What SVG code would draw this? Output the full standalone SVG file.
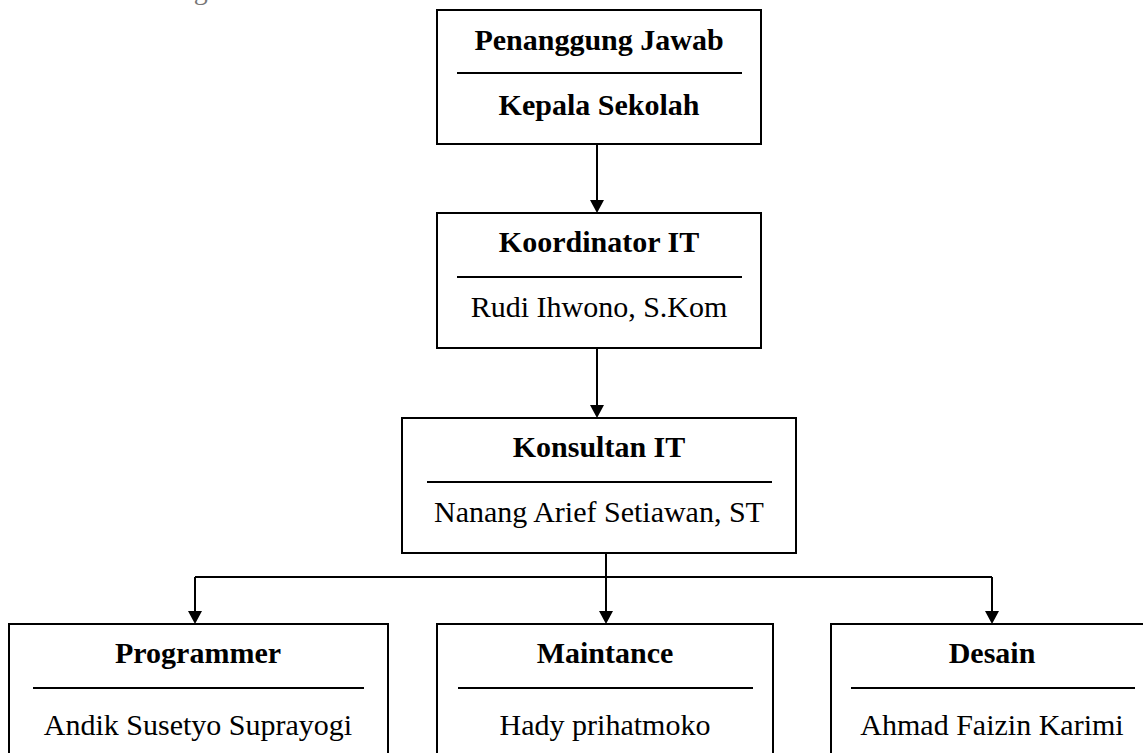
<svg xmlns="http://www.w3.org/2000/svg" width="1143" height="753" viewBox="0 0 1143 753">
<defs>
<style>
.box{fill:#fff;stroke:#000;stroke-width:2}
.div{stroke:#000;stroke-width:2}
.t{font-family:"Liberation Serif","Times New Roman",serif;font-size:30px;fill:#000;text-anchor:middle}
.b{font-weight:bold}
.con{fill:none;stroke:#000;stroke-width:2}
</style>
</defs>
<rect width="1143" height="753" fill="#fff"/>
<text x="144" y="-1" font-family="Liberation Serif, serif" font-size="28" fill="#777">sebagai mana di bawah ini</text>
<g id="connectors">
<path class="con" d="M597,144 V200"/>
<path d="M590,200 L604,200 L597,213 Z" fill="#000"/>
<path class="con" d="M597,348 V405"/>
<path d="M590,405 L604,405 L597,418 Z" fill="#000"/>
<path class="con" d="M606,553 V577 M195,577 H992 M195,577 V611 M606,577 V611 M992,577 V611"/>
<path d="M188,611 L202,611 L195,624 Z M599,611 L613,611 L606,624 Z M985,611 L999,611 L992,624 Z" fill="#000"/>
</g>
<g id="node-penanggung">
<rect class="box" x="437" y="10" width="324" height="134"/>
<text class="t b" x="599" y="50">Penanggung Jawab</text>
<line class="div" x1="457" y1="73" x2="742" y2="73"/>
<text class="t b" x="599" y="115">Kepala Sekolah</text>
</g>
<g id="node-koordinator">
<rect class="box" x="437" y="213" width="324" height="135"/>
<text class="t b" x="599" y="252">Koordinator IT</text>
<line class="div" x1="457" y1="277" x2="742" y2="277"/>
<text class="t" x="599" y="317">Rudi Ihwono, S.Kom</text>
</g>
<g id="node-konsultan">
<rect class="box" x="402" y="418" width="394" height="135"/>
<text class="t b" x="599" y="457">Konsultan IT</text>
<line class="div" x1="427" y1="482" x2="772" y2="482"/>
<text class="t" x="599" y="522">Nanang Arief Setiawan, ST</text>
</g>
<g id="node-programmer">
<rect class="box" x="9" y="624" width="379" height="140"/>
<text class="t b" x="198" y="663">Programmer</text>
<line class="div" x1="33" y1="688" x2="364" y2="688"/>
<text class="t" x="198" y="735">Andik Susetyo Suprayogi</text>
</g>
<g id="node-maintance">
<rect class="box" x="437" y="624" width="336" height="140"/>
<text class="t b" x="605" y="663">Maintance</text>
<line class="div" x1="458" y1="688" x2="753" y2="688"/>
<text class="t" x="605" y="735">Hady prihatmoko</text>
</g>
<g id="node-desain">
<rect class="box" x="831" y="624" width="322" height="140"/>
<text class="t b" x="992" y="663">Desain</text>
<line class="div" x1="851" y1="688" x2="1135" y2="688"/>
<text class="t" x="992" y="735">Ahmad Faizin Karimi</text>
</g>
</svg>
